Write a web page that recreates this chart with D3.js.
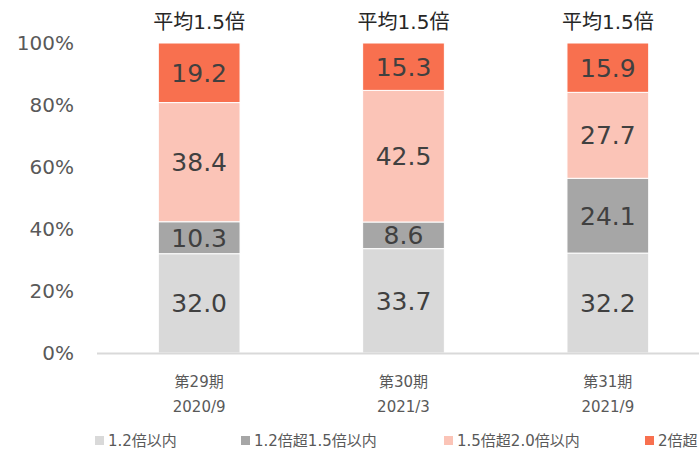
<!DOCTYPE html>
<html lang="ja">
<meta charset="utf-8">

<head>
    <style>
        body {
            margin: 0;
            font-family: "DejaVu Sans", "Noto Sans CJK JP", sans-serif;
        }
    </style>
    <script src="https://cdn.jsdelivr.net/npm/d3@7"></script>
</head>

<body>

</body>
<script>
    // data
    var periods = ["第29期", "第30期", "第31期"];
    var dates = ["2020/9", "2021/3", "2021/9"];
    var averages = ["平均1.5倍", "平均1.5倍", "平均1.5倍"];
    var seriesNames = ["1.2倍以内", "1.2倍超1.5倍以内", "1.5倍超2.0倍以内", "2倍超"];
    var within12 = [32.0, 33.7, 32.2];
    var over12to15 = [10.3, 8.6, 24.1];
    var over15to20 = [38.4, 42.5, 27.7];
    var over20 = [19.2, 15.3, 15.9];
    var yTicks = [0, 20, 40, 60, 80, 100];

    var colors = ["#d9d9d9", "#a6a6a6", "#fbc4b7", "#f8704f"];

    var svgWidth = 699;
    var svgHeight = 449;
    var margin = { top: 43, left: 97, bottom: 96 };
    var plotH = svgHeight - margin.top - margin.bottom;
    var plotW = 613;

    var svg = d3.select("body")
        .append("svg")
        .attr("width", svgWidth)
        .attr("height", svgHeight)
        .style("background", "#fff");

    var g = svg.append("g")
        .attr("transform", "translate(" + margin.left + "," + margin.top + ")");

    var x = d3.scaleBand()
        .domain(periods)
        .range([0, plotW])
        .paddingInner(0.6)
        .paddingOuter(0.3);

    var y = d3.scaleLinear().domain([0, 100]).range([plotH, 0]);

    // rows -> normalised to 100% like a 100% stacked chart
    var rows = periods.map(function (p, i) {
        var vals = [within12[i], over12to15[i], over15to20[i], over20[i]];
        var sum = d3.sum(vals);
        var r = { period: p };
        seriesNames.forEach(function (s, k) {
            r[s] = vals[k] / sum * 100;
            r[s + "_raw"] = vals[k];
        });
        return r;
    });

    var stacked = d3.stack().keys(seriesNames)(rows);

    // y tick labels
    g.selectAll(".ytick")
        .data(yTicks)
        .enter()
        .append("text")
        .attr("x", -23)
        .attr("y", function (d) { return y(d); })
        .attr("dy", "0.36em")
        .attr("text-anchor", "end")
        .attr("fill", "#595959")
        .style("font-size", "20px")
        .text(function (d) { return d + "%"; });

    var layers = g.selectAll(".layer")
        .data(stacked)
        .enter()
        .append("g")
        .attr("fill", function (d, i) { return colors[i]; });

    layers.selectAll("rect")
        .data(function (d) { return d; })
        .enter()
        .append("rect")
        .attr("x", function (d) { return x(d.data.period); })
        .attr("y", function (d) { return y(d[1]); })
        .attr("width", x.bandwidth())
        .attr("height", function (d) { return y(d[0]) - y(d[1]); })
        .attr("stroke", "#fff")
        .attr("stroke-width", 1);

    // value labels
    layers.each(function (layer) {
        d3.select(this).selectAll("text")
            .data(layer)
            .enter()
            .append("text")
            .attr("x", function (d) { return x(d.data.period) + x.bandwidth() / 2; })
            .attr("y", function (d) { return (y(d[0]) + y(d[1])) / 2; })
            .attr("dy", "0.36em")
            .attr("text-anchor", "middle")
            .attr("fill", "#404040")
            .style("font-size", "25px")
            .text(function (d) { return d.data[layer.key + "_raw"].toFixed(1); });
    });

    // baseline
    g.append("line")
        .attr("x1", 0)
        .attr("x2", plotW)
        .attr("y1", plotH + 0.5)
        .attr("y2", plotH + 0.5)
        .attr("stroke", "#d9d9d9")
        .attr("stroke-width", 2);

    // category labels
    periods.forEach(function (p, i) {
        var cx = x(p) + x.bandwidth() / 2;
        g.append("text")
            .attr("x", cx)
            .attr("y", plotH + 34)
            .attr("text-anchor", "middle")
            .attr("fill", "#595959")
            .style("font-size", "15px")
            .text(p);
        g.append("text")
            .attr("x", cx)
            .attr("y", plotH + 59)
            .attr("text-anchor", "middle")
            .attr("fill", "#595959")
            .style("font-size", "15px")
            .text(dates[i]);
        g.append("text")
            .attr("x", cx)
            .attr("y", -14)
            .attr("text-anchor", "middle")
            .attr("fill", "#262626")
            .style("font-size", "20px")
            .text(averages[i]);
    });

    // legend (last item runs off the right edge like the original)
    var legendX = [95, 241, 444, 645];
    var legend = svg.selectAll(".legend")
        .data(seriesNames)
        .enter()
        .append("g")
        .attr("transform", function (d, i) { return "translate(" + legendX[i] + ",436)"; });

    legend.append("rect")
        .attr("width", 9)
        .attr("height", 9)
        .attr("fill", function (d, i) { return colors[i]; });

    legend.append("text")
        .attr("x", 13)
        .attr("y", 10)
        .attr("fill", "#595959")
        .style("font-size", "15px")
        .text(function (d) { return d; });
</script>

</html>
